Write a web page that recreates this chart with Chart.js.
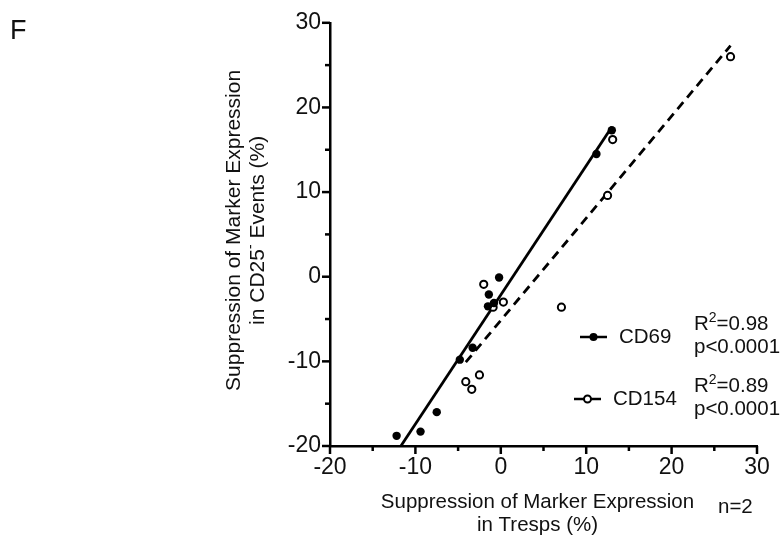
<!DOCTYPE html>
<html>
<head>
    <meta charset="utf-8" />
    <title>Suppression of Marker Expression</title>
    <script src="https://cdn.jsdelivr.net/npm/chart.js@4.4.1/dist/chart.umd.min.js"></script>
    <style>
        body { margin: 0; background: #fff; }
    </style>
</head>
<body>

<canvas id="suppression" width="784" height="538"></canvas>

<script>
    // CD69 (filled circles): suppression in Tresps vs in CD25- events, %
    var cd69X = [-12.2, -9.4, -7.5, -4.8, -3.3, -1.5, -0.8, -1.4, -0.2, 11.2, 13.0];
    var cd69Y = [-18.8, -18.3, -16.0, -9.8, -8.4, -3.5, -3.1, -2.1, -0.1, 14.5, 17.3];

    // CD154 (open circles)
    var cd154X = [-4.1, -3.4, -2.5, -0.9, 0.3, -2.0, 7.1, 12.5, 13.1, 26.9];
    var cd154Y = [-12.4, -13.3, -11.6, -3.6, -3.0, -0.9, -3.6, 9.6, 16.2, 26.0];

    // regression lines, end points
    var cd69FitX = [-11.7, 13.0];
    var cd69FitY = [-20, 17.7];
    var cd154FitX = [-4.1, 26.9];
    var cd154FitY = [-10.1, 27.3];

    var axisTicks = [-20, -10, 0, 10, 20, 30];

    var legendRows = [
        { name: "CD69", r2: "0.98", p: "p<0.0001", filled: true },
        { name: "CD154", r2: "0.89", p: "p<0.0001", filled: false }
    ];

    function toPoints(xs, ys) {
        var pts = [];
        for (var i = 0; i < xs.length; i++) {
            pts.push({ x: xs[i], y: ys[i] });
        }
        return pts;
    }

    var FONT = '"Liberation Sans", Arial, sans-serif';
    Chart.defaults.font.family = FONT;
    Chart.defaults.color = "#111";

    // tick marks: long at 10s, short at 5s
    var tickMarks = {
        id: "tickMarks",
        afterDraw: function (chart) {
            var ctx = chart.ctx, xs = chart.scales.x, ys = chart.scales.y, area = chart.chartArea;
            ctx.save();
            ctx.strokeStyle = "#000";
            ctx.lineWidth = 2.5;
            ys.ticks.forEach(function (t) {
                var py = ys.getPixelForValue(t.value);
                var len = (t.value % 10 === 0) ? 8 : 5;
                ctx.beginPath();
                ctx.moveTo(area.left - len, py);
                ctx.lineTo(area.left, py);
                ctx.stroke();
            });
            xs.ticks.forEach(function (t) {
                var px = xs.getPixelForValue(t.value);
                var len = (t.value % 10 === 0) ? 8 : 5;
                ctx.beginPath();
                ctx.moveTo(px, area.bottom);
                ctx.lineTo(px, area.bottom + len);
                ctx.stroke();
            });
            ctx.restore();
        }
    };

    // text with a small raised part: [ [text, raised], ... ]
    function pieceWidth(ctx, parts, size, small) {
        var w = 0;
        parts.forEach(function (p) {
            ctx.font = (p[1] ? small : size) + "px " + FONT;
            w += ctx.measureText(p[0]).width;
        });
        return w;
    }
    function drawPieces(ctx, parts, x, y, size, small, rise) {
        parts.forEach(function (p) {
            ctx.font = (p[1] ? small : size) + "px " + FONT;
            ctx.fillText(p[0], x, p[1] ? y - rise : y);
            x += ctx.measureText(p[0]).width;
        });
    }

    // axis titles, panel letter, legend with fit stats
    var annotations = {
        id: "annotations",
        afterDraw: function (chart) {
            var ctx = chart.ctx, area = chart.chartArea;
            ctx.save();
            ctx.fillStyle = "#111";
            ctx.textBaseline = "middle";

            ctx.font = "27px " + FONT;
            ctx.textAlign = "left";
            ctx.fillText("F", 10, 32);

            // x title
            ctx.font = "20.5px " + FONT;
            ctx.textAlign = "center";
            var cx = (area.left + area.right) / 2 - 6;
            ctx.fillText("Suppression of Marker Expression", cx, 502);
            ctx.fillText("in Tresps (%)", cx, 525);
            ctx.textAlign = "left";
            ctx.fillText("n=2", 718, 507);

            // y title, rotated
            var cy = (area.top + area.bottom) / 2 - 4;
            ctx.save();
            ctx.translate(234, cy);
            ctx.rotate(-Math.PI / 2);
            ctx.textAlign = "center";
            ctx.font = "21px " + FONT;
            ctx.fillText("Suppression of Marker Expression", 0, 0);
            ctx.textAlign = "left";
            var line2 = [["in CD25", false], ["-", true], [" Events (%)", false]];
            var w2 = pieceWidth(ctx, line2, 21, 14);
            ctx.translate(0, 24);
            drawPieces(ctx, line2, -w2 / 2, 0, 21, 14, 7);
            ctx.restore();

            // legend
            var rowsY = [337, 399];
            legendRows.forEach(function (row, i) {
                var y = rowsY[i];
                var x0 = row.filled ? 580 : 574;
                ctx.strokeStyle = "#000";
                ctx.lineWidth = 2.5;
                ctx.beginPath();
                ctx.moveTo(x0, y);
                ctx.lineTo(x0 + 27, y);
                ctx.stroke();
                ctx.beginPath();
                ctx.arc(x0 + 13.5, y, row.filled ? 4 : 3.5, 0, Math.PI * 2);
                if (row.filled) {
                    ctx.fillStyle = "#000";
                    ctx.fill();
                } else {
                    ctx.fillStyle = "#fff";
                    ctx.fill();
                    ctx.lineWidth = 2;
                    ctx.stroke();
                }
                ctx.fillStyle = "#111";
                ctx.font = "20.5px " + FONT;
                ctx.fillText(row.name, x0 + 39, y);
                drawPieces(ctx, [["R", false], ["2", true], ["=" + row.r2, false]], 694, y - 13, 20.5, 14, 6);
                ctx.font = "20.5px " + FONT;
                ctx.fillText(row.p, 694, y + 10);
            });
            ctx.restore();
        }
    };

    var ctx = document.getElementById("suppression").getContext("2d");
    var chart = new Chart(ctx, {
        type: "scatter",
        data: {
            datasets: [
                {
                    label: "CD69",
                    data: toPoints(cd69X, cd69Y),
                    pointRadius: 4.2,
                    pointBackgroundColor: "#000",
                    pointBorderColor: "#000",
                    pointBorderWidth: 0,
                    clip: false
                },
                {
                    label: "CD154",
                    data: toPoints(cd154X, cd154Y),
                    pointRadius: 3.6,
                    pointBackgroundColor: "#fff",
                    pointBorderColor: "#000",
                    pointBorderWidth: 2,
                    clip: false
                },
                {
                    label: "CD69 fit",
                    data: toPoints(cd69FitX, cd69FitY),
                    showLine: true,
                    pointRadius: 0,
                    borderColor: "#000",
                    borderWidth: 2.8
                },
                {
                    label: "CD154 fit",
                    data: toPoints(cd154FitX, cd154FitY),
                    showLine: true,
                    pointRadius: 0,
                    borderColor: "#000",
                    borderWidth: 2.8,
                    borderDash: [9, 6]
                }
            ]
        },
        options: {
            responsive: false,
            animation: false,
            layout: { padding: { top: 16, right: 27, left: 0, bottom: 0 } },
            plugins: {
                legend: { display: false },
                tooltip: { enabled: false }
            },
            scales: {
                x: {
                    min: -20,
                    max: 30,
                    afterFit: function (s) { s.height = 92; },
                    afterBuildTicks: function (s) {
                        s.ticks = [];
                        for (var v = -20; v <= 30; v += 5) s.ticks.push({ value: v });
                    },
                    ticks: {
                        padding: 8,
                        font: { size: 23 },
                        color: "#111",
                        autoSkip: false,
                        maxRotation: 0,
                        callback: function (v) { return axisTicks.indexOf(v) >= 0 ? String(v) : ""; }
                    },
                    grid: { display: false, drawTicks: false },
                    border: { display: true, color: "#000", width: 2.5 }
                },
                y: {
                    min: -20,
                    max: 30,
                    afterFit: function (s) { s.width = 330; },
                    afterBuildTicks: function (s) {
                        s.ticks = [];
                        for (var v = -20; v <= 30; v += 5) s.ticks.push({ value: v });
                    },
                    ticks: {
                        padding: 9,
                        font: { size: 23 },
                        color: "#111",
                        autoSkip: false,
                        callback: function (v) { return axisTicks.indexOf(v) >= 0 ? String(v) : ""; }
                    },
                    grid: { display: false, drawTicks: false },
                    border: { display: true, color: "#000", width: 2.5 }
                }
            }
        },
        plugins: [tickMarks, annotations]
    });
</script>

</body>
</html>
